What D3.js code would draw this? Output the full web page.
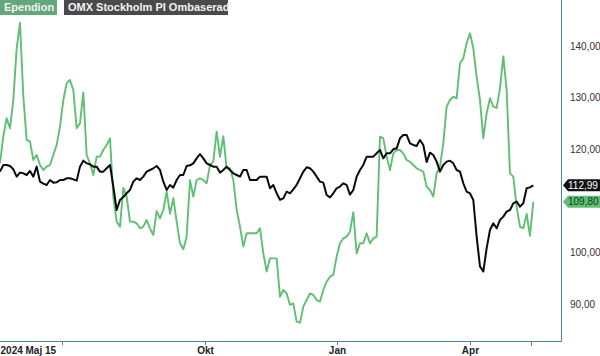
<!DOCTYPE html>
<html><head><meta charset="utf-8">
<script src="https://cdn.jsdelivr.net/npm/d3@7/dist/d3.min.js"></script>
<style>body{margin:0;background:#fff}svg{display:block;font-family:"Liberation Sans",Arial,sans-serif}</style>
</head><body><svg id="c" width="600" height="356"></svg>
<script>
const seriesNames = ["Ependion", "OMX Stockholm PI Ombaserad"];
const ependion = [117.26,122.56,125.99,124.05,129.54,139.55,144.5,130.18,121.79,121.46,
117.91,118.88,116.94,115.97,116.62,116.94,118.88,120.82,124.37,129.54,
132.77,133.41,131.48,124.05,125.02,131.0,118.88,117.26,115.0,118.56,
118.56,119.85,120.82,122.11,110.80,105.96,104.99,112.5,110.80,105.96,
105.96,105.64,104.67,104.99,106.28,104.67,103.38,108.0,106.6,108.22,
111.77,107.5,110.5,105.96,101.76,100.60,103.05,114.0,110.8,114.03,
114.36,114.03,113.39,116.94,117.59,123.4,118.5,122.5,116.30,116.30,
114.03,108.22,104.99,101.12,103.70,103.70,103.70,103.70,104.67,99.82,
96.3,98.85,98.85,98.85,91.42,92.72,92.07,89.81,90.13,86.58,
86.39,89.49,90.78,92.07,91.75,90.78,90.46,92.72,94.33,95.30,
95.63,99.18,101.76,102.73,103.05,104.02,107.8,99.82,101.76,101.76,
103.70,101.76,102.73,103.05,122.43,122.11,118.56,115.97,119.20,119.85,
119.85,119.20,117.91,117.59,116.94,116.30,115.97,115.65,112.74,112.10,
110.80,115.33,116.62,121.14,128.25,129.54,130.18,129.86,136.64,137.61,
140.52,142.46,139.55,134.06,129.54,122.11,126.95,129.86,128.25,128.0,
131.80,138.0,131.5,115.33,114.68,108.87,104.99,104.67,107.45,103.2,
109.80];
const omx = [115.65,116.94,116.94,116.75,116.10,114.68,115.46,115.33,115.0,115.78,
114.68,116.62,113.71,113.32,113.07,114.03,113.52,113.58,114.03,114.03,
114.36,114.36,114.16,113.90,116.62,117.78,117.26,117.07,116.62,116.62,
115.65,115.65,116.30,116.94,112.74,108.22,110.16,110.74,111.45,112.10,
113.71,114.36,114.03,114.68,115.65,115.97,116.30,116.75,115.97,113.71,
112.10,113.07,112.55,114.03,115.0,115.0,116.75,116.88,117.26,118.23,
119.07,118.23,117.26,116.94,116.62,116.62,115.46,115.97,116.62,115.97,
115.33,115.0,114.68,115.97,115.97,114.03,114.03,114.03,114.68,114.68,
114.68,112.42,113.07,111.45,110.2,110.48,111.77,111.45,112.23,113.07,
114.36,115.65,116.49,116.30,115.65,114.68,113.71,113.52,111.13,110.67,
111.45,112.42,112.74,113.39,113.07,111.2,112.10,114.68,115.97,116.94,
118.56,118.56,118.56,119.20,119.85,118.23,119.20,119.20,119.98,120.17,
122.11,122.76,122.76,121.14,120.82,120.62,121.79,120.82,117.5,119.33,
118.88,117.59,115.65,116.94,117.59,117.78,117.26,115.97,115.65,113.39,
111.77,111.45,110.16,103.05,97.3,96.3,100.79,104.34,105.64,104.67,
106.28,106.93,107.90,108.22,109.51,109.84,108.87,109.51,112.42,112.61,
112.99];
const yTickValues = [90, 100, 120, 130, 140];
const xTickIdx = [18.6, 61.5, 101.1, 141];
const xTickLabels = ["2024 Maj 15", "Okt", "Jan", "Apr"];
const todayIdx = 159.45;

const svg = d3.select("#c");
const W = 561, H = 341;
const x = d3.scaleLinear().domain([0, 160]).range([0, 533.3]);
const y = d3.scaleLinear().domain([82.83, 148.915]).range([H, 0]);
const fmt = v => d3.format(".2f")(v).replace(".", ",");

svg.append("defs").append("clipPath").attr("id","clip")
  .append("rect").attr("x",0).attr("y",0).attr("width",W).attr("height",H);

// y axis labels (right)
const yAx = svg.append("g").attr("transform",`translate(${W},0)`)
  .call(d3.axisRight(y).tickValues(yTickValues).tickSize(0).tickPadding(9).tickFormat(fmt));
yAx.select(".domain").remove();
yAx.selectAll("text").attr("font-size",10).attr("fill","#333").attr("font-family","Liberation Sans, Arial, sans-serif");

// x axis
const xAx = svg.append("g").attr("transform",`translate(0,${H})`)
  .call(d3.axisBottom(x).tickValues(xTickIdx).tickSize(4).tickPadding(4).tickFormat((d,i)=>xTickLabels[i]));
xAx.select(".domain").remove();
xAx.selectAll("line").attr("stroke","#4f8494");
xAx.selectAll("text").attr("font-size",10).attr("font-weight","bold").attr("fill","#222")
  .attr("font-family","Liberation Sans, Arial, sans-serif").attr("dy","0.5em");
xAx.selectAll(".tick").filter((d,i)=>i===0).select("text")
  .attr("text-anchor","start").attr("x", -x(xTickIdx[0]));
svg.append("line").attr("x1",x(todayIdx)).attr("x2",x(todayIdx)).attr("y1",H).attr("y2",H+5)
  .attr("stroke","#d9534f").attr("stroke-width",1);

// plot frame (right + bottom)
svg.append("path").attr("d",`M${W+0.5},0V${H+0.5}H0`).attr("fill","none").attr("stroke","#4f8494").attr("stroke-width",1);

const line = d3.line().x((d,i)=>x(i)).y(d=>y(d));
const g = svg.append("g").attr("clip-path","url(#clip)");
g.append("path").datum(ependion).attr("d",line).attr("fill","none").attr("stroke","#5fbf72").attr("stroke-width",1.9).attr("stroke-linejoin","round");
g.append("path").datum(omx).attr("d",line).attr("fill","none").attr("stroke","#0a0a0a").attr("stroke-width",2).attr("stroke-linejoin","round");

// legend
const leg = [{t:seriesNames[0], x:0, w:57, fill:"#62a87a"},{t:seriesNames[1], x:64, w:164, fill:"#4a4a4a"}];
leg.forEach(l=>{
  svg.append("rect").attr("x",l.x).attr("y",0).attr("width",l.w).attr("height",15).attr("fill",l.fill);
  svg.append("text").attr("x",l.x+4).attr("y",11).attr("font-size",11).attr("font-weight","bold")
    .attr("fill","#f2f2f2").text(l.t);
});

// last value tags
let yb = y(omx[omx.length-1]), yg = y(ependion[ependion.length-1]);
if (Math.abs(yb-yg) < 13) { const m=(yb+yg)/2; if (yb<yg){yb=m-6.5;yg=m+6.5;} else {yb=m+6.5;yg=m-6.5;} }
const tags = [{cy:yb, v:omx[omx.length-1], fill:"#111", tc:"#fff"},{cy:yg, v:ependion[ependion.length-1], fill:"#5fbf72", tc:"#123a1c"}];
tags.forEach(t=>{
  const x0=W+2, h=6;
  svg.append("path").attr("d",`M${x0},${t.cy}L${x0+5},${t.cy-h}H600V${t.cy+h}H${x0+5}Z`).attr("fill",t.fill);
  svg.append("text").attr("x",x0+5).attr("y",t.cy+3.6).attr("font-size",10).attr("fill",t.tc).text(fmt(t.v));
});
</script></body></html>
